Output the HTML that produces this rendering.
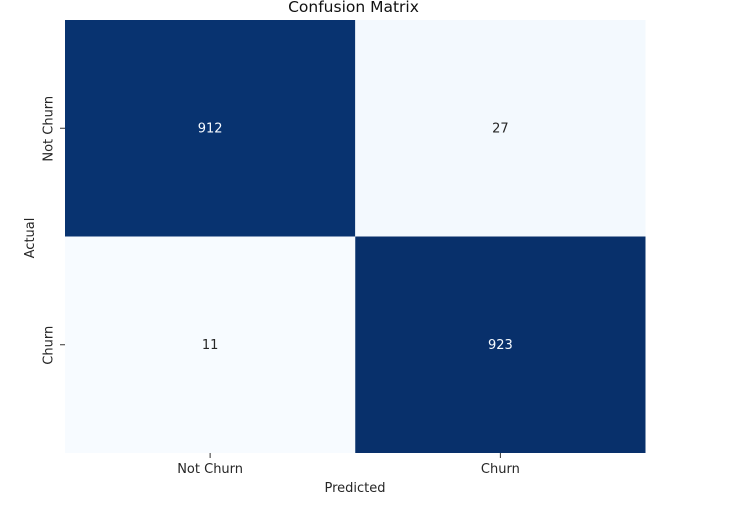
<!DOCTYPE html>
<html>
<head>
<meta charset="utf-8">
<style>
html,body{margin:0;padding:0;background:#fff;width:733px;height:506px;overflow:hidden}
svg{display:block;font-family:"DejaVu Sans","Liberation Sans",sans-serif}
</style>
</head>
<body>
<svg id="chart" width="733" height="506" viewBox="0 0 733 506" xmlns="http://www.w3.org/2000/svg">
<rect width="733" height="506" fill="#ffffff"/>
<text x="353.5" y="12" font-size="15.5" text-anchor="middle" fill="#111111">Confusion Matrix</text>
<text x="355" y="492" font-size="13" text-anchor="middle" fill="#262626">Predicted</text>
<text transform="translate(34 238) rotate(-90)" font-size="13" text-anchor="middle" fill="#262626">Actual</text>
<g id="cells"></g>
<g id="annotations"></g>
<g id="ticks"></g>
</svg>
<script>
const categories = ['Not Churn', 'Churn'];
const row0Values = [912, 27];
const row1Values = [11, 923];
const matrix = [row0Values, row1Values];

const NS = 'http://www.w3.org/2000/svg';
const plot = {left: 65, right: 645.5, top: 20, bottom: 453};
const palette = [[247,251,255],[222,235,247],[198,219,239],[158,202,225],[107,174,214],[66,146,198],[33,113,181],[8,81,156],[8,48,107]];

function xEdge(i){ return plot.left + (plot.right - plot.left) * i / categories.length; }
function yEdge(i){ return plot.top + (plot.bottom - plot.top) * i / categories.length; }
function colorFor(v, lo, hi){
  const t = hi === lo ? 0 : Math.min(1, Math.max(0, (v - lo) / (hi - lo)));
  const p = t * (palette.length - 1);
  const i = Math.min(palette.length - 2, Math.floor(p));
  const f = p - i;
  const c = palette[i].map((a, k) => Math.round(a + (palette[i + 1][k] - a) * f));
  return 'rgb(' + c.join(',') + ')';
}
function make(tag, attrs, parent){
  const el = document.createElementNS(NS, tag);
  Object.keys(attrs).forEach(k => el.setAttribute(k, attrs[k]));
  document.getElementById(parent).appendChild(el);
  return el;
}

const allValues = matrix.flat();
const lo = Math.min(...allValues);
const hi = Math.max(...allValues);

matrix.forEach((row, r) => {
  row.forEach((v, c) => {
    const t = hi === lo ? 0 : (v - lo) / (hi - lo);
    const cell = make('rect', {x: xEdge(c), y: yEdge(r), width: xEdge(c + 1) - xEdge(c), height: yEdge(r + 1) - yEdge(r), fill: colorFor(v, lo, hi)}, 'cells');
    
    
    const label = make('text', {x: (xEdge(c) + xEdge(c + 1)) / 2, y: (yEdge(r) + yEdge(r + 1)) / 2 + 4.2, 'font-size': 13, 'text-anchor': 'middle', fill: t > 0.5 ? '#f7fbff' : '#262626'}, 'annotations');
    
    
    label.textContent = v;
  });
});

categories.forEach((name, i) => {
  const cx = (xEdge(i) + xEdge(i + 1)) / 2;
  const cy = (yEdge(i) + yEdge(i + 1)) / 2;
  const xTick = make('line', {x1: cx, x2: cx, y1: plot.bottom, y2: plot.bottom + 5, stroke: '#333333', 'stroke-width': 1}, 'ticks');
  
  
  const xLabel = make('text', {x: cx, y: 473, 'font-size': 13, 'text-anchor': 'middle', fill: '#262626'}, 'ticks');
  
  
  xLabel.textContent = name;
  const yTick = make('line', {x1: plot.left - 5, x2: plot.left, y1: cy, y2: cy, stroke: '#333333', 'stroke-width': 1}, 'ticks');
  
  
  const yLabel = make('text', {transform: 'translate(52.5 ' + (cy + 0.5) + ') rotate(-90)', 'font-size': 13, 'text-anchor': 'middle', fill: '#262626'}, 'ticks');
  
  
  yLabel.textContent = name;
});
</script>
</body>
</html>
